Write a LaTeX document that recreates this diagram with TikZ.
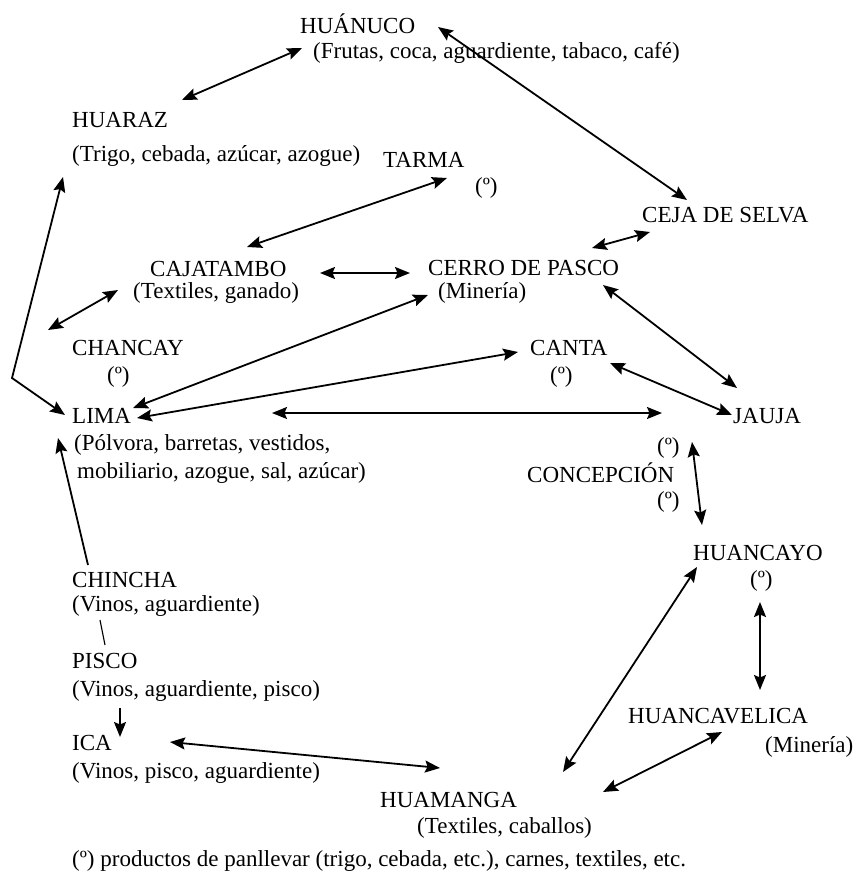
\documentclass[tikz,border=0pt]{standalone}
\usepackage{fontspec}
\setmainfont{Liberation Serif}
\usetikzlibrary{arrows.meta}
\begin{document}
\begin{tikzpicture}[x=1pt,y=-1pt,
  lbl/.style={anchor=base west,inner sep=0pt,font=\fontsize{23}{27}\selectfont},
  conn/.style={line width=1.8pt,{Stealth[length=15pt,width=12pt,inset=2.5pt]}-{Stealth[length=15pt,width=12pt,inset=2.5pt]}},
  oneway/.style={line width=1.8pt,-{Stealth[length=15pt,width=12pt,inset=2.5pt]}},
  plain/.style={line width=1.1pt}]
\useasboundingbox (0,0) rectangle (858,876);
% labels
\node[lbl] (huanuco) at (300,33) {HUÁNUCO};
\node[lbl] (huanucop) at (313,58) {(Frutas, coca, aguardiente, tabaco, café)};
\node[lbl] (huaraz) at (72,127) {HUARAZ};
\node[lbl] (huarazp) at (72,161) {(Trigo, cebada, azúcar, azogue)};
\node[lbl] (tarma) at (383,167) {TARMA};
\node[lbl] (tarmap) at (475,193) {(º)};
\node[lbl] (ceja) at (642,222) {CEJA DE SELVA};
\node[lbl] (cajatambo) at (150,276) {CAJATAMBO};
\node[lbl] (cajatambop) at (133,298) {(Textiles, ganado)};
\node[lbl] (cerro) at (428,275) {CERRO DE PASCO};
\node[lbl] (cerrop) at (438,298) {(Minería)};
\node[lbl] (chancay) at (72,355) {CHANCAY};
\node[lbl] (chancayp) at (107,382) {(º)};
\node[lbl] (lima) at (72,423) {LIMA};
\node[lbl] (limap1) at (74,450) {(Pólvora, barretas, vestidos,};
\node[lbl] (limap2) at (77,478) {mobiliario, azogue, sal, azúcar)};
\node[lbl] (canta) at (530,355) {CANTA};
\node[lbl] (cantap) at (550,382) {(º)};
\node[lbl] (jauja) at (733,423) {JAUJA};
\node[lbl] (concp1) at (657,453) {(º)};
\node[lbl] (concepcion) at (527,482) {CONCEPCIÓN};
\node[lbl] (concp2) at (657,507) {(º)};
\node[lbl] (huancayo) at (693,560) {HUANCAYO};
\node[lbl] (huancayop) at (750,586) {(º)};
\node[lbl] (chincha) at (72,587) {CHINCHA};
\node[lbl] (chinchap) at (72,611) {(Vinos, aguardiente)};
\node[lbl] (pisco) at (72,668) {PISCO};
\node[lbl] (piscop) at (72,696) {(Vinos, aguardiente, pisco)};
\node[lbl] (ica) at (72,750) {ICA};
\node[lbl] (icap) at (72,778) {(Vinos, pisco, aguardiente)};
\node[lbl] (huancavelica) at (628,723) {HUANCAVELICA};
\node[lbl] (huancavelicap) at (765,752) {(Minería)};
\node[lbl] (huamanga) at (380,807) {HUAMANGA};
\node[lbl] (huamangap) at (417,833) {(Textiles, caballos)};
\node[lbl] (nota) at (72,866) {(º) productos de panllevar (trigo, cebada, etc.), carnes, textiles, etc.};
% connector end points
\coordinate (a1) at (302,48);   \coordinate (b1) at (182,100);
\coordinate (a2) at (438,27);   \coordinate (b2) at (687,200);
\coordinate (a3) at (447,178);  \coordinate (b3) at (247,247);
\coordinate (a4) at (650,232);  \coordinate (b4) at (592,248);
\coordinate (a5) at (320,273);  \coordinate (b5) at (410,273);
\coordinate (a6) at (63,177);   \coordinate (m6) at (12,378);  \coordinate (b6) at (65,415);
\coordinate (a7) at (118,290);  \coordinate (b7) at (48,330);
\coordinate (a8) at (428,295);  \coordinate (b8) at (133,408);
\coordinate (a9) at (518,352);  \coordinate (b9) at (137,418);
\coordinate (a10) at (272,413); \coordinate (b10) at (662,413);
\coordinate (a11) at (603,285); \coordinate (b11) at (737,388);
\coordinate (a12) at (610,363); \coordinate (b12) at (732,415);
\coordinate (a13) at (692,442); \coordinate (b13) at (702,525);
\coordinate (a14) at (697,567); \coordinate (b14) at (563,772);
\coordinate (a15) at (760,602); \coordinate (b15) at (760,690);
\coordinate (a16) at (722,732); \coordinate (b16) at (603,792);
\coordinate (a17) at (170,742); \coordinate (b17) at (440,768);
\coordinate (a18) at (88,565);  \coordinate (b18) at (58,438);
\coordinate (a19) at (100,620); \coordinate (b19) at (105,645);
\coordinate (a20) at (120,708); \coordinate (b20) at (120,737);
% connectors
\draw[conn] (a1) -- (b1);
\draw[conn] (a2) -- (b2);
\draw[conn] (a3) -- (b3);
\draw[conn] (a4) -- (b4);
\draw[conn] (a5) -- (b5);
\draw[conn] (a6) -- (m6) -- (b6);
\draw[conn] (a7) -- (b7);
\draw[conn] (a8) -- (b8);
\draw[conn] (a9) -- (b9);
\draw[conn] (a10) -- (b10);
\draw[conn] (a11) -- (b11);
\draw[conn] (a12) -- (b12);
\draw[conn] (a13) -- (b13);
\draw[conn] (a14) -- (b14);
\draw[conn] (a15) -- (b15);
\draw[conn] (a16) -- (b16);
\draw[conn] (a17) -- (b17);
\draw[oneway] (a18) -- (b18);
\draw[plain] (a19) -- (b19);
\draw[oneway] (a20) -- (b20);
\end{tikzpicture}
\end{document}
